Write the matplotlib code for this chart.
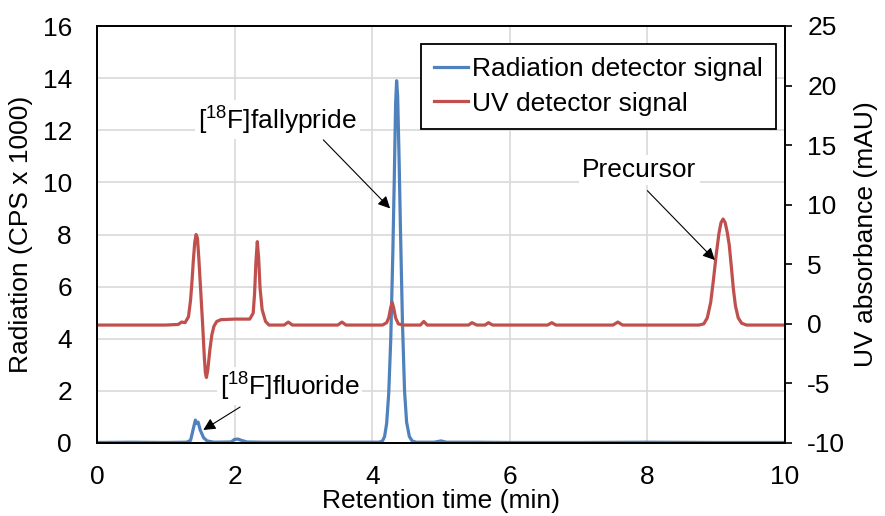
import matplotlib
matplotlib.use('Agg')
import matplotlib.pyplot as plt

plt.rcParams['font.family'] = ['Liberation Sans', 'DejaVu Sans']
plt.rcParams['mathtext.fontset'] = 'custom'
plt.rcParams['mathtext.rm'] = 'Liberation Sans'
plt.rcParams['axes.unicode_minus'] = False

# radiation detector trace (CPS x 1000)
rad_time = [0.0, 0.5, 1.0, 1.30, 1.36, 1.40, 1.43, 1.45, 1.47, 1.50,
            1.55, 1.60, 1.70, 1.95, 2.00, 2.05, 2.10, 2.18, 2.40, 3.0,
            3.6, 4.10, 4.15, 4.18, 4.21, 4.24, 4.27, 4.30, 4.32, 4.34,
            4.355, 4.37, 4.39, 4.41, 4.44, 4.47, 4.50, 4.54, 4.58, 4.64,
            4.9, 5.0, 5.08, 5.5, 6.0, 7.0, 8.0, 9.0, 10.0]
rad_cps = [0.02, 0.03, 0.02, 0.03, 0.10, 0.55, 0.88, 0.75, 0.80, 0.50,
           0.20, 0.08, 0.03, 0.04, 0.14, 0.15, 0.10, 0.04, 0.03, 0.03,
           0.03, 0.03, 0.08, 0.25, 0.75, 1.9, 4.0, 7.3, 10.0, 13.0,
           13.9, 13.3, 11.0, 8.3, 4.6, 2.0, 0.8, 0.25, 0.08, 0.03,
           0.03, 0.08, 0.03, 0.03, 0.02, 0.02, 0.03, 0.02, 0.02]

# UV detector trace (mAU)
uv_time = [0.0, 1.0, 1.18, 1.23, 1.28, 1.33, 1.36, 1.38, 1.40, 1.42,
           1.44, 1.46, 1.48, 1.51, 1.535, 1.56, 1.575, 1.59, 1.61, 1.64,
           1.67, 1.70, 1.74, 1.80, 2.0, 2.22, 2.27, 2.29, 2.31, 2.33,
           2.35, 2.37, 2.40, 2.45, 2.50, 2.72, 2.78, 2.84, 3.50, 3.56,
           3.62, 4.15, 4.21, 4.24, 4.27, 4.29, 4.31, 4.34, 4.38, 4.45,
           4.70, 4.75, 4.80, 5.40, 5.45, 5.52, 5.64, 5.69, 5.75, 6.55,
           6.61, 6.67, 7.50, 7.57, 7.64, 8.75, 8.82, 8.87, 8.92, 8.96,
           9.00, 9.04, 9.07, 9.10, 9.13, 9.16, 9.19, 9.22, 9.25, 9.28,
           9.32, 9.37, 9.44, 10.0]
uv_mau = [-0.1, -0.1, -0.05, 0.15, 0.1, 0.6, 2.0, 3.5, 5.3, 6.8,
          7.5, 7.2, 5.5, 2.5, 0.0, -2.8, -4.1, -4.5, -3.9, -2.2,
          -0.9, -0.2, 0.2, 0.35, 0.4, 0.4, 0.9, 2.5, 5.2, 6.9,
          5.5, 3.0, 1.2, 0.2, -0.1, -0.1, 0.15, -0.1, -0.1, 0.15,
          -0.1, -0.1, 0.1, 0.5, 1.4, 1.8, 1.4, 0.5, 0.0, -0.1,
          -0.1, 0.2, -0.1, -0.1, 0.1, -0.1, -0.1, 0.1, -0.1, -0.1,
          0.1, -0.1, -0.1, 0.15, -0.1, -0.1, 0.0, 0.5, 1.8, 3.7,
          5.8, 7.6, 8.5, 8.8, 8.5, 7.7, 6.6, 4.8, 2.9, 1.5,
          0.5, 0.05, -0.1, -0.1]

# integration windows of the radiation peaks (min)
int_start = [1.39, 4.16]
int_end = [1.53, 4.60]
int_level = [0, 0]

# peak labels: text, text position, arrow start, arrow tip (time, CPS x 1000)
peak_labels = [r'[$^{\mathregular{18}}$F]fluoride', r'[$^{\mathregular{18}}$F]fallypride', 'Precursor']
label_pos = [(2.80, 2.19), (2.62, 12.4), (7.885, 10.48)]
arrow_from = [(2.08, 1.38), (3.29, 11.63), (8.00, 9.68)]
arrow_to = [(1.545, 0.50), (4.26, 9.00), (8.98, 7.02)]

blue = '#4F81BD'
red = '#C0504D'
fs = 19

fig = plt.figure(figsize=(8.85, 5.16), dpi=100)
ax = fig.add_axes([97 / 885, 1 - 443 / 516, 688 / 885, 417 / 516])
ax2 = ax.twinx()

l1, = ax.plot(rad_time, rad_cps, color=blue, lw=2.3, label='Radiation detector signal')
ax.hlines(int_level, int_start, int_end, color='black', lw=1.3, zorder=3)
l2, = ax2.plot(uv_time, uv_mau, color=red, lw=2.3, label='UV detector signal')

ax.set_xlim(0, 10)
ax.set_ylim(0, 16)
ax.set_xticks(range(0, 11, 2))
ax.set_yticks(range(0, 17, 2))
ax2.set_ylim(-10, 25)
ax2.set_yticks(range(-10, 26, 5))

ax.grid(True, color='#D9D9D9', lw=1.2)
ax.set_axisbelow(True)

for a in (ax, ax2):
    for s in a.spines.values():
        s.set_color('black')
        s.set_linewidth(1.3)

ax.tick_params(axis='both', length=0, labelsize=fs)
ax.tick_params(axis='y', pad=18)
ax.tick_params(axis='x', pad=16)
ax2.tick_params(axis='y', direction='out', length=5, width=1.2, labelsize=fs, pad=11)

ax.set_xlabel('Retention time (min)', fontsize=fs, labelpad=0)
ax.set_ylabel('Radiation (CPS x 1000)', fontsize=fs, labelpad=7)
ax2.set_ylabel('UV absorbance (mAU)', fontsize=fs, labelpad=6)

for txt, pos, p0, p1 in zip(peak_labels, label_pos, arrow_from, arrow_to):
    ax2.annotate('', xy=p1, xytext=p0, xycoords=ax.transData, textcoords=ax.transData,
                 arrowprops=dict(arrowstyle='-|>', color='black', lw=0.8,
                                 mutation_scale=18, shrinkA=0, shrinkB=0))
    ax2.text(pos[0], pos[1], txt, transform=ax.transData, fontsize=fs,
             ha='center', va='center',
             bbox=dict(facecolor='white', edgecolor='none', pad=2))

leg = ax2.legend(handles=[l1, l2], loc='upper right', bbox_to_anchor=(0.987, 0.957),
                 borderaxespad=0, fontsize=fs, frameon=True, fancybox=False,
                 framealpha=1, edgecolor='black', handlelength=1.3,
                 handletextpad=0.15, borderpad=0.5, labelspacing=0.4)
leg.get_frame().set_linewidth(1.3)
for h in leg.get_lines():
    h.set_linewidth(2.3)

fig.savefig('out.png', dpi=100)
